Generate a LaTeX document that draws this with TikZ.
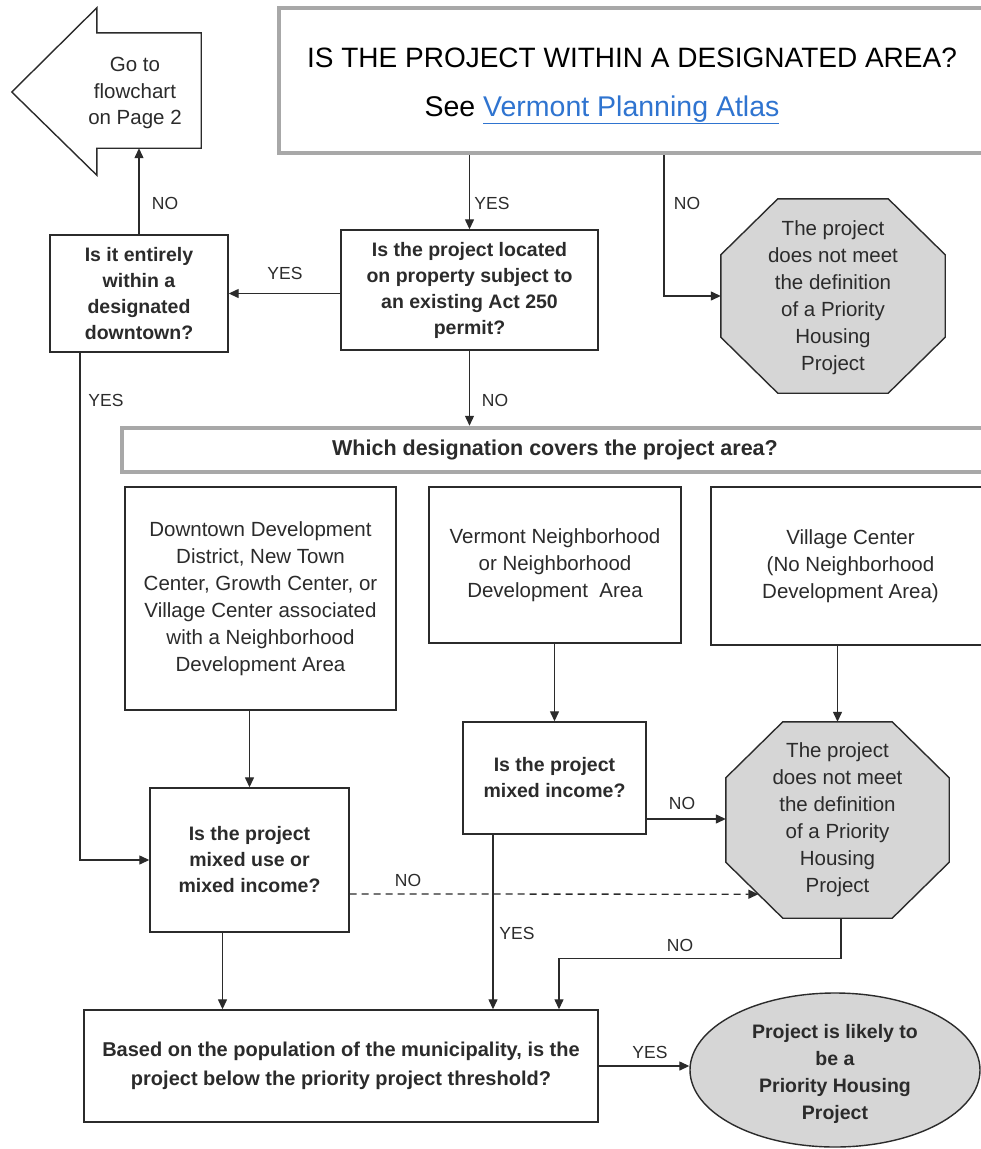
\documentclass[tikz,border=0pt]{standalone}
\usepackage{fontspec}
\setmainfont{Liberation Sans}
\usetikzlibrary{arrows.meta,calc,shapes.geometric}
\definecolor{ink}{HTML}{2B2B2B}
\definecolor{frame}{HTML}{A8A8A8}
\definecolor{stopgray}{HTML}{D6D6D6}
\definecolor{linkblue}{HTML}{2F74D0}
\newcommand\octagonpath[3]{%
 \draw[stopshape] ($(#1.north west)+(#2,0)$) -- ($(#1.north east)+(-#2,0)$) -- ($(#1.north east)+(0,#3)$) -- ($(#1.south east)+(0,-#3)$) -- ($(#1.south east)+(-#2,0)$) -- ($(#1.south west)+(#2,0)$) -- ($(#1.south west)+(0,-#3)$) -- ($(#1.north west)+(0,#3)$) -- cycle;}
\begin{document}
\begin{tikzpicture}[x=1pt,y=-1pt,
  box/.style={draw=ink, line width=1.4pt, fill=white, inner sep=0pt, align=center, font=\fontsize{20.5}{27}\selectfont, text=ink},
  qbox/.style={box, font=\bfseries\fontsize{19.5}{26}\selectfont},
  graybox/.style={draw=frame, line width=4.5pt, fill=white, inner sep=0pt},
  stopshape/.style={draw=ink, line width=1.4pt, fill=stopgray},
  stoptext/.style={inner sep=0pt, align=center, font=\fontsize{20.5}{27}\selectfont, text=ink},
  conn/.style={draw=ink, line width=1.3pt, -{Triangle[length=10pt,width=9pt]}},
  lbl/.style={font=\fontsize{17.5}{22}\selectfont, text=ink, inner sep=0pt}]
\useasboundingbox (0,0) rectangle (981,1149);

% go-to arrow
\node[inner sep=0pt, minimum width=104pt, minimum height=115pt] (goto) at (149,90.5) {};
\draw[draw=ink, line width=1.4pt, fill=white] (goto.north west) -- (goto.north east) -- (goto.south east) -- (goto.south west) -- ++(0,27) -- ($(goto.west)+(-85,1.5)$) -- ($(goto.north west)+(0,-25)$) -- cycle;
\node[stoptext, font=\fontsize{20.5}{26.5}\selectfont] (gototext) at (135,93) {Go to\\flowchart\\on Page 2};

% top question
\node[graybox, minimum width=711pt, minimum height=145pt] (top) at (634.5,80.5) {};
\node[inner sep=0pt, font=\fontsize{28}{30}\selectfont, text=black] (title) at (632,58) {IS THE PROJECT WITHIN A DESIGNATED AREA?};
\node[inner sep=0pt, font=\fontsize{28.5}{30}\selectfont, text=black] (see) at (602,110) {See \textcolor{linkblue}{\underline{Vermont Planning Atlas}}};

% decisions
\node[qbox, minimum width=257pt, minimum height=120pt] (q1) at (469.5,290) {Is the project located\\on property subject to\\an existing Act 250\\permit?};
\node[qbox, minimum width=178pt, minimum height=117pt] (q2) at (139,293.5) {Is it entirely\\within a\\designated\\downtown?};

\node[minimum width=224pt, minimum height=194pt, inner sep=0pt] (s1) at (833,296) {};
\octagonpath{s1}{57}{56}
\node[stoptext] (s1text) at (833,298) {The project\\does not meet\\the definition\\of a Priority\\Housing\\Project};

\node[graybox, minimum width=868pt, minimum height=44pt] (which) at (556,450) {};
\node[inner sep=0pt, font=\bfseries\fontsize{21.5}{24}\selectfont, text=ink] (whichtext) at (555,450) {Which designation covers the project area?};

\node[box, minimum width=271pt, minimum height=223pt] (d1) at (260.5,598.5) {Downtown Development\\District, New Town\\Center, Growth Center, or\\Village Center associated\\with a Neighborhood\\Development Area};
\node[box, minimum width=252pt, minimum height=156pt] (d2) at (555,565) {Vermont Neighborhood\\or Neighborhood\\Development\ \ Area};
\node[box, minimum width=279pt, minimum height=158pt] (d3) at (850.5,566) {Village Center\\(No Neighborhood\\Development Area)};

\node[qbox, minimum width=199pt, minimum height=144pt] (q3) at (249.5,860) {Is the project\\mixed use or\\mixed income?};
\node[qbox, minimum width=183pt, minimum height=112pt] (q4) at (554.5,778) {Is the project\\mixed income?};

\node[minimum width=223pt, minimum height=196pt, inner sep=0pt] (s2) at (837.5,820) {};
\octagonpath{s2}{57}{56}
\node[stoptext] (s2text) at (s2) {The project\\does not meet\\the definition\\of a Priority\\Housing\\Project};

\node[qbox, minimum width=514pt, minimum height=112pt, font=\bfseries\fontsize{20}{29}\selectfont] (q5) at (341,1066) {Based on the population of the municipality, is the\\project below the priority project threshold?};

\node[ellipse, draw=ink, line width=1.4pt, fill=stopgray, minimum width=290pt, minimum height=154pt, inner sep=0pt] (e1) at (835,1070) {};
\node[inner sep=0pt, align=center, font=\bfseries\fontsize{19.5}{27}\selectfont, text=ink] (e1text) at (835,1074) {Project is likely to\\be a\\Priority Housing\\Project};

% connectors
\draw[conn] (q1.north |- top.south) -- (q1.north);
\node[lbl] at (492,203) {YES};
\draw[conn] ([xshift=29.5pt]top.south) |- (s1.west);
\node[lbl] at (687,203) {NO};
\draw[conn] (q1.west |- q2.east) -- (q2.east);
\node[lbl] at (285,273) {YES};
\draw[conn] (q2.north) -- (q2.north |- goto.south);
\node[lbl] at (165,203) {NO};
\coordinate (c0) at ([xshift=-59pt]q2.south);
\draw[conn] (c0) |- (q3.west);
\node[lbl] at (106,400) {YES};
\draw[conn] (q1.south) -- (q1.south |- which.north);
\node[lbl] at (495,400) {NO};
\draw[conn] (q3.north |- d1.south) -- (q3.north);
\draw[conn] (q4.north |- d2.south) -- (q4.north);
\draw[conn] (s2.north |- d3.south) -- (s2.north);
\coordinate (c4) at ([yshift=-41pt]q4.east);
\draw[conn] (c4) -- (c4 -| s2.west);
\node[lbl] at (682,803) {NO};
\coordinate (c5) at ([yshift=-34pt]q3.east);
\coordinate (c6) at ([xshift=32.6pt,yshift=24pt]s2.south west);
\draw[conn, dashed, dash pattern=on 7pt off 5pt] (c5) -- (c6);
\node[lbl] at (408,880) {NO};
\coordinate (c1) at ([xshift=-27pt]q3.south);
\draw[conn] (c1) -- (c1 |- q5.north);
\coordinate (c2) at ([xshift=-61.5pt]q4.south);
\draw[conn] (c2) -- (c2 |- q5.north);
\node[lbl] at (517,933) {YES};
\coordinate (c3) at ([xshift=218pt]q5.north);
\coordinate (c7) at ([xshift=3.5pt]s2.south);
\draw[conn] (c7) |- ($(c3)+(0,-51)$) -- (c3);
\node[lbl] at (680,945) {NO};
\draw[conn] (q5.east) -- (q5.east -| e1.west);
\node[lbl] at (650,1052) {YES};
\end{tikzpicture}
\end{document}
